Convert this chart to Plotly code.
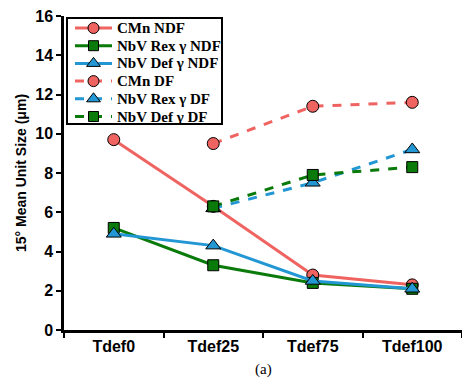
import plotly.graph_objects as go

categories = ["Tdef0", "Tdef25", "Tdef75", "Tdef100"]
cmn_ndf = [9.7, 6.3, 2.8, 2.3]
nbv_rex_ndf = [5.2, 3.3, 2.4, 2.1]
nbv_def_ndf = [4.9, 4.3, 2.5, 2.1]
cmn_df = [None, 9.5, 11.4, 11.6]
nbv_rex_df = [None, 6.2, 7.5, 9.2]
nbv_def_df = [None, 6.3, 7.9, 8.3]

RED = "#EF6461"
GREEN = "#0A7A0A"
BLUE = "#2297D4"

series = [
    ("CMn NDF", cmn_ndf, RED, "solid", "circle", 12),
    ("NbV Rex γ NDF", nbv_rex_ndf, GREEN, "solid", "square", 11),
    ("NbV Def γ NDF", nbv_def_ndf, BLUE, "solid", "triangle-up", 13),
    ("CMn DF", cmn_df, RED, "dash", "circle", 12),
    ("NbV Rex γ DF", nbv_rex_df, BLUE, "dash", "triangle-up", 13),
    ("NbV Def γ DF", nbv_def_df, GREEN, "dash", "square", 11),
]

fig = go.Figure()
for name, vals, col, dash, sym, sz in series:
    fig.add_trace(go.Scatter(
        x=categories, y=vals, name=name, mode="lines+markers",
        line=dict(color=col, width=3, dash=dash),
        marker=dict(symbol=sym, size=sz, color=col, line=dict(color="black", width=1)),
        connectgaps=False, showlegend=False,
    ))

# Custom legend drawn on an overlay axis in pixel units of the plot area
L, R, T, B = 64, 462, 16, 330
annotations = []
row0, step = 28, 17.7
for i, (name, vals, col, dash, sym, sz) in enumerate(series):
    yy = row0 + i * step
    fig.add_trace(go.Scatter(
        x=[75, 112], y=[yy, yy], mode="lines", xaxis="x2", yaxis="y2",
        line=dict(color=col, width=3, dash="dash" if dash == "dash" else "solid"),
        showlegend=False, hoverinfo="skip",
    ))
    fig.add_trace(go.Scatter(
        x=[93.5], y=[yy], mode="markers", xaxis="x2", yaxis="y2",
        marker=dict(symbol=sym, size=sz - 1, color=col, line=dict(color="black", width=1)),
        showlegend=False, hoverinfo="skip",
    ))
    annotations.append(dict(
        text=name, x=115, y=yy, xref="x2", yref="y2", showarrow=False,
        xanchor="left", yanchor="middle",
        font=dict(family="Liberation Serif", size=15, color="black", weight="bold"),
    ))

annotations.append(dict(
    text="(a)", x=0.5, y=-0.127, xref="paper", yref="paper", showarrow=False,
    xanchor="center", yanchor="middle",
    font=dict(family="Liberation Serif", size=15, color="black"),
))

fig.update_layout(
    width=462, height=380,
    margin=dict(l=64, r=0, t=16, b=50),
    paper_bgcolor="white", plot_bgcolor="white",
    showlegend=False,
    xaxis=dict(
        type="category", tickson="boundaries", ticks="outside", ticklen=5, tickwidth=2,
        tickcolor="black", showline=True, linecolor="black", linewidth=2.5,
        showgrid=False, zeroline=False,
        tickfont=dict(family="Liberation Sans", size=16, color="black", weight="bold"),
        range=[-0.5, 3.5],
    ),
    yaxis=dict(
        range=[0, 16], dtick=2, ticks="outside", ticklen=5, tickwidth=2, tickcolor="black",
        showline=True, linecolor="black", linewidth=2.5, showgrid=False, zeroline=False,
        tickfont=dict(family="Liberation Sans", size=16, color="black", weight="bold"),
        title=dict(text="15° Mean Unit Size (μm)", standoff=6,
                   font=dict(family="Liberation Sans", size=14, color="black", weight="bold")),
    ),
    xaxis2=dict(overlaying="x", range=[L, R], visible=False, fixedrange=True),
    yaxis2=dict(overlaying="y", range=[B, T], visible=False, fixedrange=True),
    shapes=[dict(
        type="rect", xref="x2", yref="y2", x0=67, x1=222, y0=18, y1=124,
        line=dict(color="black", width=2), fillcolor="white", layer="below",
    )],
    annotations=annotations,
)

fig.write_html("out.html")
